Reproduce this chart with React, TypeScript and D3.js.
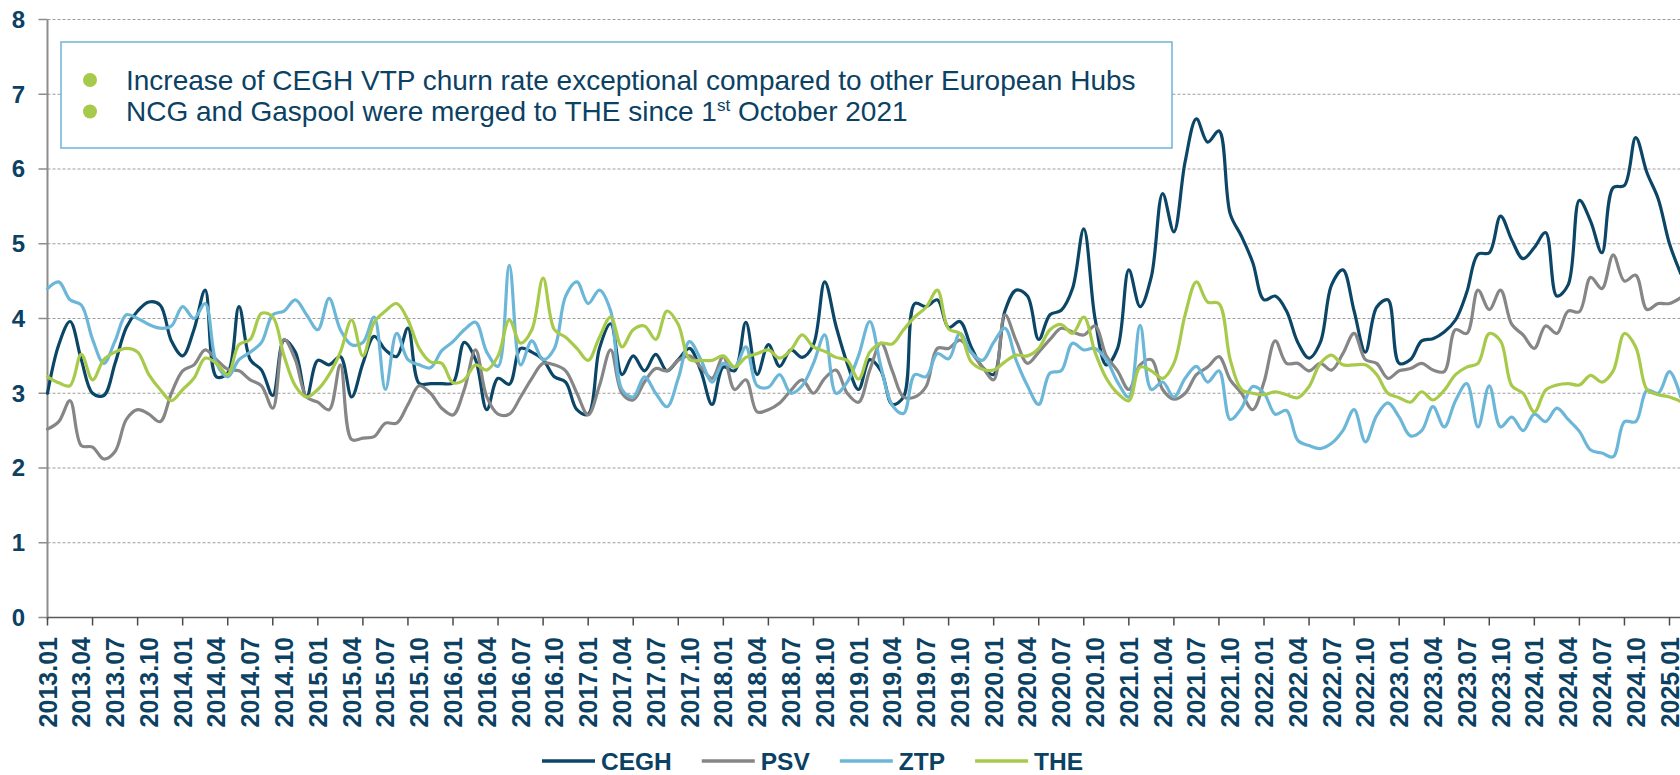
import React, { useMemo } from "react";
import * as d3 from "d3";

const W = 1680;
const H = 775;
const FONT = "Arial, 'Liberation Sans', Helvetica, sans-serif";
const NAVY = "#0b4163";

// monthly categories, 2013.01 .. 2025.02
const START_YEAR = 2013;
const months = d3.range(146).map(
  (i) => `${START_YEAR + Math.floor(i / 12)}.${String((i % 12) + 1).padStart(2, "0")}`
);

const cegh = [
  3.0, 3.65, 3.96, 3.45, 3.0, 2.97, 3.4, 3.88, 4.1, 4.22, 4.18, 3.7,
  3.5, 3.85, 4.38, 3.22, 3.27, 4.16, 3.45, 3.31, 2.97, 3.71, 3.55, 2.95,
  3.44, 3.38, 3.49, 2.95, 3.4, 3.76, 3.58, 3.49, 3.87, 3.13, 3.13, 3.13,
  3.14, 3.68, 3.45, 2.78, 3.2, 3.12, 3.6, 3.55, 3.45, 3.22, 3.15, 2.78,
  2.72, 3.6, 3.93, 3.25, 3.5, 3.3, 3.52, 3.3, 3.45, 3.6, 3.3, 2.85,
  3.35, 3.3, 3.95, 3.25, 3.65, 3.36, 3.58, 3.48, 3.65, 4.49, 3.9, 3.4,
  3.05, 3.45, 3.3, 2.85, 2.95, 4.2, 4.16, 4.25, 3.88, 3.96, 3.62, 3.35,
  3.25, 4.1, 4.38, 4.3, 3.72, 4.05, 4.11, 4.4, 5.2, 4.0, 3.38, 3.6,
  4.65, 4.16, 4.56, 5.67, 5.16, 6.1, 6.67, 6.36, 6.51, 5.4, 5.1, 4.75,
  4.25, 4.3, 4.1, 3.68, 3.47, 3.68, 4.45, 4.65, 4.1, 3.55, 4.15, 4.25,
  3.4, 3.45, 3.7, 3.73, 3.82, 3.98, 4.35, 4.86, 4.88, 5.37, 5.05, 4.8,
  4.95, 5.15, 4.3, 4.45, 5.58, 5.3, 4.88, 5.75, 5.78, 6.42, 5.95, 5.6,
  5.0, 4.6,
];

const psv = [
  2.52, 2.62, 2.9, 2.3, 2.28, 2.12, 2.22, 2.65, 2.78, 2.72, 2.62, 3.0,
  3.3, 3.38, 3.58, 3.45, 3.32, 3.3, 3.18, 3.1, 2.8, 3.72, 3.45, 2.95,
  2.88, 2.78, 3.38, 2.38, 2.4, 2.42, 2.6, 2.6, 2.85, 3.1, 3.0, 2.8,
  2.71, 3.05, 3.58, 2.95, 2.72, 2.72, 2.95, 3.2, 3.4, 3.38, 3.3, 3.0,
  2.71, 3.1, 3.58, 3.0, 2.91, 3.15, 3.33, 3.3, 3.44, 3.5, 3.35, 3.2,
  3.49, 3.05, 3.18, 2.75, 2.78, 2.87, 3.04, 3.18, 3.0, 3.2, 3.31, 3.0,
  2.88, 3.31, 3.67, 3.3, 2.95, 2.95, 3.09, 3.6, 3.6, 3.71, 3.55, 3.35,
  3.18, 4.05, 3.7, 3.4, 3.55, 3.72, 3.87, 3.82, 3.78, 3.9, 3.5, 3.3,
  3.05, 3.38, 3.45, 3.05, 2.92, 3.0, 3.25, 3.35, 3.49, 3.18, 3.0, 2.78,
  3.15, 3.7, 3.4, 3.4, 3.3, 3.4, 3.31, 3.53, 3.8, 3.45, 3.4, 3.2,
  3.3, 3.33, 3.4, 3.31, 3.29, 3.85, 3.8, 4.38, 4.12, 4.38, 3.92, 3.78,
  3.6, 3.9, 3.8, 4.1, 4.09, 4.55, 4.4, 4.85, 4.5, 4.58, 4.12, 4.2,
  4.2, 4.28,
];

const ztp = [
  4.4, 4.49, 4.25, 4.18, 3.72, 3.4, 3.7, 4.05, 4.0, 3.92, 3.87, 3.9,
  4.16, 4.0, 4.2, 3.4, 3.22, 3.45, 3.55, 3.68, 4.05, 4.1, 4.25, 4.05,
  3.85, 4.27, 3.85, 3.65, 3.68, 4.02, 3.05, 3.8, 3.45, 3.38, 3.34, 3.57,
  3.69, 3.85, 3.95, 3.55, 3.36, 4.71, 3.38, 3.7, 3.45, 3.6, 4.3, 4.49,
  4.2, 4.38, 4.1, 3.05, 2.95, 3.22, 3.0, 2.82, 3.2, 3.69, 3.45, 3.15,
  3.4, 3.35, 3.62, 3.1, 3.08, 3.25, 3.0, 3.1, 3.4, 3.78, 3.0, 3.15,
  3.5, 3.96, 3.35, 2.84, 2.73, 3.25, 3.22, 3.53, 3.46, 3.8, 3.55, 3.44,
  3.68, 3.87, 3.44, 3.1, 2.85, 3.27, 3.3, 3.67, 3.58, 3.6, 3.45, 3.15,
  2.95, 3.91, 3.05, 3.15, 2.95, 3.2, 3.36, 3.15, 3.3, 2.65, 2.8, 3.09,
  3.0, 2.72, 2.77, 2.37, 2.3, 2.26, 2.33, 2.5, 2.78, 2.35, 2.7, 2.87,
  2.68, 2.43, 2.5, 2.82, 2.55, 2.9, 3.13, 2.55, 3.1, 2.55, 2.68, 2.5,
  2.72, 2.62, 2.8, 2.65, 2.49, 2.24, 2.2, 2.15, 2.62, 2.62, 3.04, 3.0,
  3.29, 2.95,
];

const the = [
  3.22, 3.14, 3.1, 3.52, 3.18, 3.45, 3.55, 3.6, 3.55, 3.25, 3.05, 2.9,
  3.05, 3.2, 3.47, 3.4, 3.25, 3.65, 3.72, 4.07, 4.02, 3.5, 3.1, 2.95,
  3.05, 3.25, 3.55, 3.98, 3.5, 3.95, 4.1, 4.2, 3.98, 3.6, 3.42, 3.4,
  3.14, 3.18, 3.38, 3.31, 3.5, 3.98, 3.67, 3.85, 4.54, 3.85, 3.75, 3.6,
  3.44, 3.75, 4.02, 3.62, 3.85, 3.9, 3.72, 4.1, 3.92, 3.45, 3.44, 3.44,
  3.5, 3.35, 3.48, 3.53, 3.58, 3.47, 3.58, 3.78, 3.62, 3.56, 3.48, 3.44,
  3.19, 3.55, 3.67, 3.66, 3.85, 4.02, 4.15, 4.38, 3.86, 3.8, 3.42, 3.32,
  3.31, 3.42, 3.51, 3.5, 3.6, 3.85, 3.92, 3.8, 4.02, 3.55, 3.2, 3.0,
  2.9, 3.35, 3.3, 3.2, 3.4, 4.05, 4.49, 4.22, 4.2, 3.45, 3.05, 3.0,
  2.98, 3.02, 2.98, 2.94, 3.09, 3.4, 3.51, 3.38, 3.38, 3.38, 3.25, 3.0,
  2.94, 2.88, 3.02, 2.91, 3.04, 3.25, 3.35, 3.4, 3.8, 3.7, 3.1, 3.0,
  2.75, 3.04, 3.11, 3.13, 3.11, 3.24, 3.15, 3.3, 3.8, 3.62, 3.05, 2.98,
  2.95, 2.89,
];

const seriesNames = ["CEGH", "PSV", "ZTP", "THE"];
const seriesColors = ["#0c4667", "#868686", "#6cb6d8", "#a8ca4a"];
const seriesValues = [cegh, psv, ztp, the];

const yTicks = [0, 1, 2, 3, 4, 5, 6, 7, 8];
const LABEL_STEP = 3; // every 3rd month is labelled
const TICK_STEP = 4; // tick marks every 4 months
const LAST_LABEL = 144;

const notes = [
  "Increase of CEGH VTP churn rate exceptional compared to other European Hubs",
  "NCG and Gaspool were merged to THE since 1|st| October 2021",
];

export default function App() {
  const left = 47.5;
  const x = d3.scaleLinear().domain([0, LAST_LABEL]).range([left, 1669.5]);
  const y = d3.scaleLinear().domain([0, 8]).range([617.5, 19.5]);

  const line = d3
    .line<number>()
    .x((_, i) => x(i))
    .y((d) => y(d))
    .curve(d3.curveCatmullRom.alpha(0.5));

  const legendWidths = useMemo(() => {
    const ctx = document.createElement("canvas").getContext("2d");
    if (!ctx) return seriesNames.map((n) => n.length * 17);
    ctx.font = `bold 24.5px ${FONT}`;
    return seriesNames.map((n) => ctx.measureText(n).width);
  }, []);

  let lx = 542;
  const legendItems = seriesNames.map((name, i) => {
    const item = { name, color: seriesColors[i], x: lx };
    lx += 53 + 6 + legendWidths[i] + 30;
    return item;
  });

  const labelIdx = d3.range(0, LAST_LABEL + 1, LABEL_STEP);
  const tickIdx = d3.range(0, LAST_LABEL + 1, TICK_STEP);

  return (
    <>
      <style>{"body{margin:0}"}</style>
      <svg width={W} height={H} style={{ display: "block", background: "#fff" }} fontFamily={FONT}>
        {/* grid */}
        {yTicks.filter((t) => t > 0).map((t) => (
          <line key={t} x1={left} x2={W} y1={y(t)} y2={y(t)}
            stroke="#9c9c9c" strokeWidth={1} strokeDasharray="3,2" />
        ))}

        {/* y axis */}
        <line x1={left} x2={left} y1={y(8)} y2={y(0) + 2} stroke="#8c8c8c" strokeWidth={2} />
        {yTicks.map((t) => (
          <g key={t}>
            <line x1={left - 9} x2={left} y1={y(t)} y2={y(t)} stroke="#8c8c8c" strokeWidth={1.5} />
            <text x={25} y={y(t)} dy="0.35em" textAnchor="end" fontSize={24}
              fontWeight="bold" fill={NAVY}>{t}</text>
          </g>
        ))}

        {/* x axis */}
        <line x1={left} x2={W} y1={y(0)} y2={y(0)} stroke="#5a5a5a" strokeWidth={1.5} />
        {tickIdx.map((i) => (
          <line key={i} x1={x(i)} x2={x(i)} y1={y(0)} y2={y(0) + 8} stroke="#4a4a4a" strokeWidth={1.5} />
        ))}
        {labelIdx.map((i) => (
          <text key={i} transform={`translate(${x(i)},637) rotate(-90)`} dy="0.36em"
            textAnchor="end" fontSize={25} fontWeight="bold" fill={NAVY}>{months[i]}</text>
        ))}

        {/* series */}
        {seriesValues.map((vals, k) => (
          <path key={seriesNames[k]} d={line(vals) || ""} fill="none"
            stroke={seriesColors[k]} strokeWidth={3.2} strokeLinejoin="round" strokeLinecap="round" />
        ))}

        {/* annotation box */}
        <rect x={61} y={42} width={1111} height={106} fill="#fff" stroke="#6db4d6" strokeWidth={1.5} />
        {notes.map((n, i) => {
          const parts = n.split("|");
          const by = 89.5 + i * 31.5;
          return (
            <g key={i}>
              <circle cx={90} cy={by - 9.5} r={7} fill="#a8ca4a" />
              <text x={126} y={by} fontSize={28} fill={NAVY}>
                {parts.length === 1 ? n : (
                  <>
                    {parts[0]}
                    <tspan dy={-10} fontSize={17}>{parts[1]}</tspan>
                    <tspan dy={10}>{parts[2]}</tspan>
                  </>
                )}
              </text>
            </g>
          );
        })}

        {/* legend */}
        {legendItems.map((it) => (
          <g key={it.name}>
            <line x1={it.x} x2={it.x + 53} y1={761} y2={761} stroke={it.color} strokeWidth={3.5} />
            <text x={it.x + 59} y={761} dy="0.35em" fontSize={24.5} fontWeight="bold" fill={NAVY}>{it.name}</text>
          </g>
        ))}
      </svg>
    </>
  );
}
